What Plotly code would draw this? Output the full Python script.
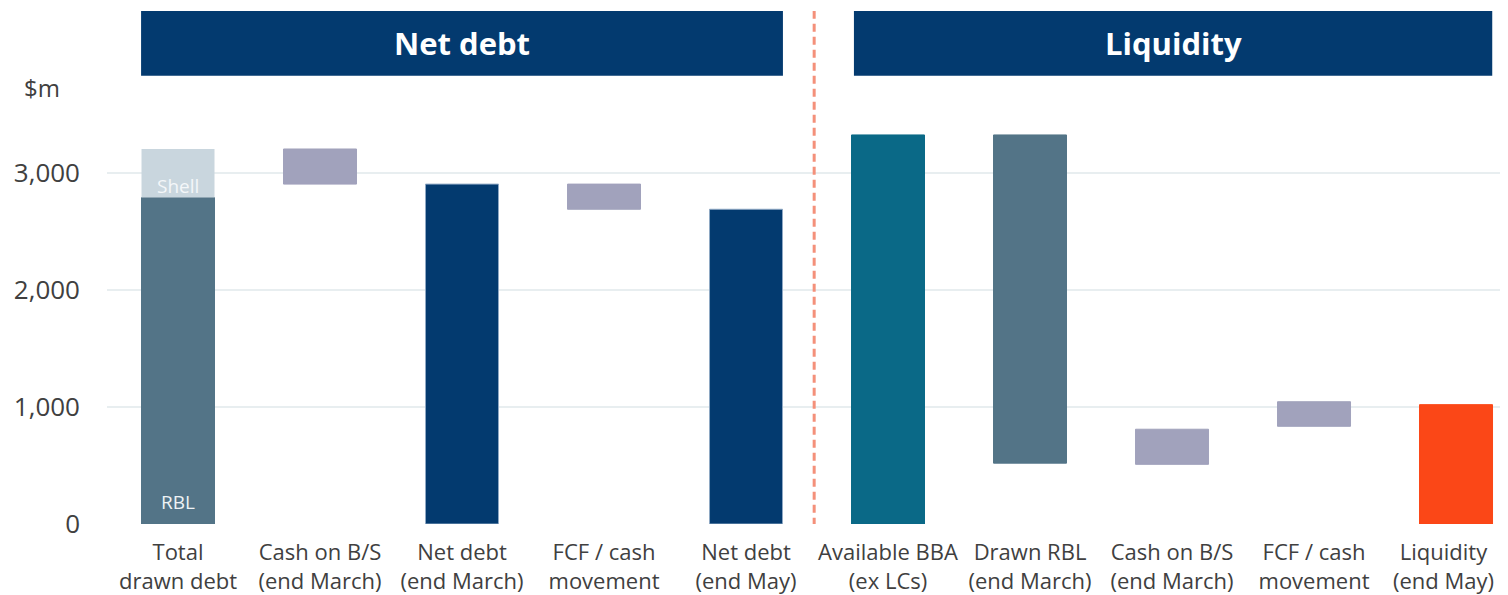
import plotly.graph_objects as go

# ---------------- data ----------------
categories = [
    "Total<br>drawn debt", "Cash on B/S<br>(end March)", "Net debt<br>(end March)",
    "FCF / cash<br>movement", "Net debt<br>(end May)", "Available BBA<br>(ex LCs)",
    "Drawn RBL<br>(end March)", "Cash on B/S<br>(end March)", "FCF / cash<br>movement",
    "Liquidity<br>(end May)",
]
bar_bottoms = [0, 2905, 0, 2690, 0, 0, 520, 510, 835, 0]
bar_tops = [2790, 3205, 2905, 2905, 2690, 3325, 3325, 810, 1045, 1020]
shell_bottom = [2790]
shell_top = [3205]
y_ticks = [0, 1000, 2000, 3000]
y_tick_labels = ["0", "1,000", "2,000", "3,000"]
section_titles = ["Net debt", "Liquidity"]

# ---------------- style ----------------
NAVY = "#033A6F"
SLATE = "#537487"
LILAC = "#A1A2BC"
TEAL = "#0A6987"
ORANGE = "#FB4717"
SHELL = "#C9D6DE"
bar_colors = [SLATE, LILAC, NAVY, LILAC, NAVY, TEAL, SLATE, LILAC, LILAC, ORANGE]
line_colors = [SLATE, LILAC, "#8FA8C4", LILAC, "#8FA8C4", TEAL, SLATE, LILAC, LILAC, ORANGE]
FONT = "Open Sans"
TXT = "#404040"
BAR_W = 0.514

x_pos = list(range(len(categories)))

fig = go.Figure()
fig.add_trace(go.Bar(
    x=x_pos,
    y=[t - b for t, b in zip(bar_tops, bar_bottoms)],
    base=bar_bottoms,
    width=BAR_W,
    marker=dict(color=bar_colors, line=dict(color=line_colors, width=1)),
    hoverinfo="skip",
    showlegend=False,
))
fig.add_trace(go.Bar(
    x=[0],
    y=[t - b for t, b in zip(shell_top, shell_bottom)],
    base=shell_bottom,
    width=BAR_W,
    marker=dict(color=SHELL, line=dict(width=0)),
    hoverinfo="skip",
    showlegend=False,
))

# in-bar labels
fig.add_annotation(x=0, y=2892, text="Shell", showarrow=False,
                   font=dict(family=FONT, size=19, color="#F4F7F9"))
fig.add_annotation(x=0, y=190, text="RBL", showarrow=False,
                   font=dict(family=FONT, size=19, color="#EEF2F5"))

# section headers
Y0_HDR, Y1_HDR = 3832, 4385
hdr_spans = [(-0.26, 4.26), (4.76, 9.255)]
for (x0, x1), title in zip(hdr_spans, section_titles):
    fig.add_shape(type="rect", xref="x", yref="y", x0=x0, x1=x1, y0=Y0_HDR, y1=Y1_HDR,
                  fillcolor=NAVY, line=dict(width=0), layer="above")
    fig.add_annotation(x=(x0 + x1) / 2, y=(Y0_HDR + Y1_HDR) / 2, text=title, showarrow=False,
                       font=dict(family=FONT, size=31, color="white", weight="bold"))

# divider
fig.add_shape(type="line", xref="x", yref="y", x0=4.48, x1=4.48, y0=-15, y1=4385,
              line=dict(color="#F4907A", width=3, dash="8px,5px"), layer="above")

# unit label
fig.add_annotation(xref="paper", yref="y", x=-0.061, y=3729, xanchor="left", yanchor="middle",
                   text="$m", showarrow=False, font=dict(family=FONT, size=24, color=TXT))

# last category label sits against the right edge, so place it right-aligned
tick_text = categories[:-1] + [""]
fig.add_annotation(xref="paper", yref="paper", x=1, y=0, xanchor="right", yanchor="top",
                   yshift=-10, xshift=-12, align="center", text=categories[-1], showarrow=False,
                   font=dict(family=FONT, size=22, color=TXT))

fig.update_layout(
    width=1500, height=587, autosize=False,
    margin=dict(l=99, r=0, t=0, b=71),
    plot_bgcolor="white", paper_bgcolor="white",
    barmode="overlay",
    font=dict(family=FONT, color=TXT),
    xaxis=dict(
        range=[-0.5, 9.366], tickmode="array", tickvals=x_pos, ticktext=tick_text,
        showgrid=False, zeroline=False, showline=False, ticks="",
        tickfont=dict(family=FONT, size=22, color=TXT),
        ticklabelstandoff=13, fixedrange=True, automargin=False,
    ),
    yaxis=dict(
        range=[0, 4410], tickmode="array", tickvals=y_ticks, ticktext=y_tick_labels,
        showgrid=True, gridcolor="#E8EEF0", gridwidth=2, zeroline=False, showline=False,
        ticks="", tickfont=dict(family=FONT, size=26, color=TXT),
        ticklabelstandoff=26, fixedrange=True, automargin=False,
    ),
)

fig.write_html("out.html")
